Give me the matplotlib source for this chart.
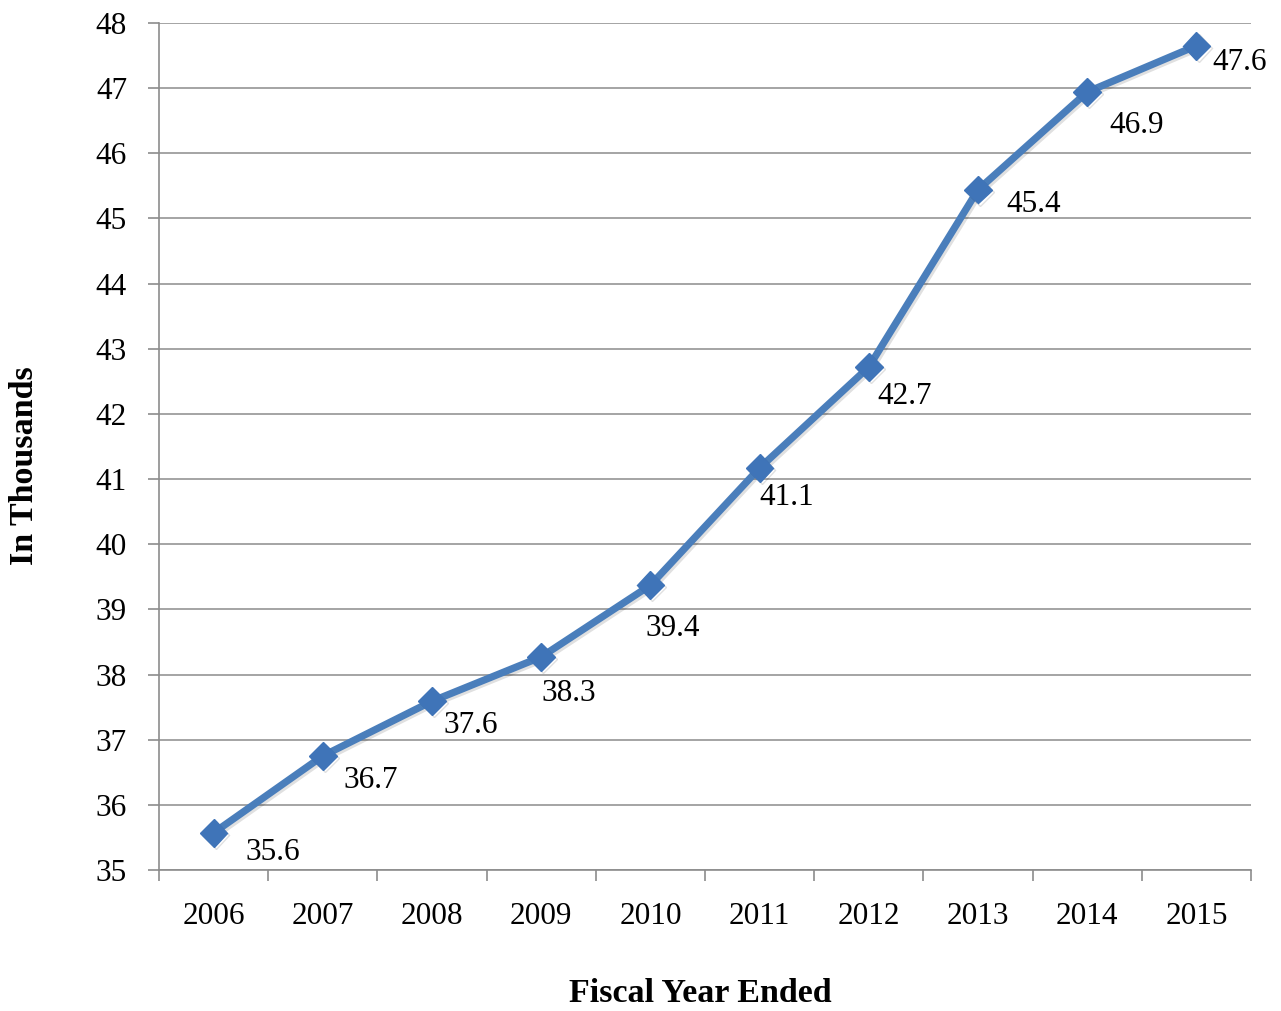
import matplotlib
matplotlib.use("Agg")
import matplotlib.pyplot as plt
import matplotlib.patheffects as pe

# data
years = ["2006", "2007", "2008", "2009", "2010", "2011", "2012", "2013", "2014", "2015"]
values = [35.57, 36.75, 37.59, 38.27, 39.37, 41.17, 42.72, 45.44, 46.94, 47.65]
labels = ["35.6", "36.7", "37.6", "38.3", "39.4", "41.1", "42.7", "45.4", "46.9", "47.6"]
yticks = list(range(35, 49))

# where Excel put each data label (pixels from the point)
label_offsets = [(59, -20), (48, -25), (39, -24), (28, -37), (22, -43),
                 (27, -30), (36, -30), (56, -15), (49, -33), (43, -17)]

plt.rcParams['font.family'] = ['Liberation Serif', 'DejaVu Serif']

fig = plt.figure(figsize=(12.81, 10.11), dpi=100)
ax = fig.add_axes([0.1241, 0.1395, 0.8525, 0.8378])

x = list(range(len(years)))
blue = '#4a7ebb'
ax.plot(x, values, color=blue, lw=5.2, marker='D', ms=14, mfc='#3f74b8', mec='#3f74b8',
        solid_capstyle='round', zorder=3,
        path_effects=[pe.SimpleLineShadow(offset=(1.5, -1.5), alpha=0.12), pe.Normal()])

for xi, v, lab, off in zip(x, values, labels, label_offsets):
    ax.annotate(lab, (xi, v), xytext=off, textcoords='offset pixels',
                ha='center', va='center', fontsize=22.5, color='black')

ax.set_xlim(-0.5, len(years) - 0.5)
ax.set_ylim(35, 48)
ax.set_yticks(yticks)
ax.yaxis.grid(True, color='#8c8c8c', lw=1.1)
ax.set_axisbelow(True)

# ticks between categories, labels at the centres
ax.set_xticks([i - 0.5 for i in range(len(years) + 1)])
ax.set_xticklabels([])
ax.set_xticks(x, minor=True)
ax.set_xticklabels(years, minor=True)
ax.tick_params(axis='x', which='major', direction='out', length=8, width=1.2, color='#8c8c8c')
ax.tick_params(axis='x', which='minor', length=0, pad=23, labelsize=22.5)
ax.tick_params(axis='y', direction='out', length=8, width=1.2, color='#8c8c8c', pad=15, labelsize=22.5)

for s in ['top', 'right']:
    ax.spines[s].set_visible(False)
for s in ['left', 'bottom']:
    ax.spines[s].set_color('#8c8c8c')
    ax.spines[s].set_linewidth(1.2)

fig.text(0.0195, 0.539, 'In Thousands', rotation=90, ha='center', va='center',
         fontsize=24.5, fontweight='bold')
fig.text(0.547, 0.017, 'Fiscal Year Ended', ha='center', va='center',
         fontsize=24.5, fontweight='bold')

fig.savefig('out.png', dpi=100)
